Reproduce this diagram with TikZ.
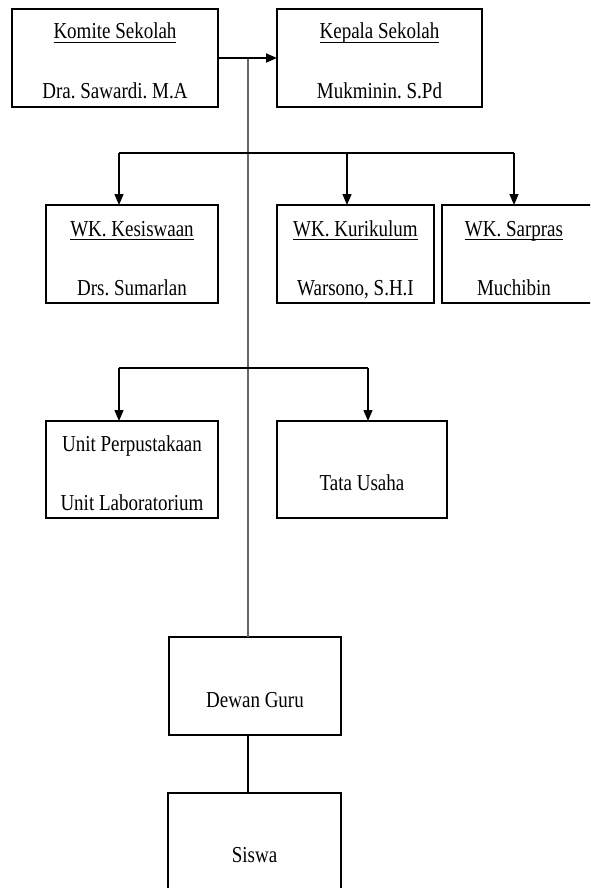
\documentclass[tikz,border=0pt]{standalone}
\usepackage{fontspec}
\usepackage{graphicx}
\setmainfont{Liberation Serif}
\usetikzlibrary{arrows.meta}
\frenchspacing
\newcommand\sx[1]{\scalebox{1}[1.2]{#1}}
\newcommand\ulttl[1]{\setbox0\hbox{#1}\rlap{\rule[-3.2pt]{\wd0}{1.1pt}}\box0}
\begin{document}
\begin{tikzpicture}[x=1pt,y=-1pt,
  box/.style={draw, line width=1.3pt, inner sep=0pt, outer sep=0pt},
  lbl/.style={anchor=base, inner sep=0pt, font=\fontsize{19pt}{22pt}\selectfont},
  conn/.style={line width=1.3pt},
  arr/.style={line width=1.3pt, -{Triangle[length=11pt,width=9pt]}},
  vline/.style={line width=1.1pt, black!60}]
\useasboundingbox (0,0) rectangle (590,888);
\clip (0,0) rectangle (590,888);
% boxes
\node[box, minimum width=206pt, minimum height=98pt] (komite) at (115,58) {};
\node[box, minimum width=205pt, minimum height=98pt] (kepala) at (379.5,58) {};
\node[box, minimum width=172pt, minimum height=98pt] (kesiswaan) at (132,254) {};
\node[box, minimum width=157pt, minimum height=98pt] (kurikulum) at (355.5,254) {};
\node[box, minimum width=156pt, minimum height=98pt] (sarpras) at (520,254) {};
\node[box, minimum width=172pt, minimum height=97pt] (unit) at (132,469.5) {};
\node[box, minimum width=170pt, minimum height=97pt] (tata) at (362,469.5) {};
\node[box, minimum width=172pt, minimum height=98pt] (dewan) at (255,686) {};
\node[box, minimum width=173pt, minimum height=98pt] (siswa) at (254.5,842) {};
% labels
\node[lbl] (komiteT) at ([yshift=-30pt]komite.north) {\sx{\ulttl{Komite Sekolah}}};
\node[lbl] (komiteN) at ([yshift=-90pt]komite.north) {\sx{Dra. Sawardi. M.A}};
\node[lbl] (kepalaT) at ([yshift=-30pt]kepala.north) {\sx{\ulttl{Kepala Sekolah}}};
\node[lbl] (kepalaN) at ([yshift=-90pt]kepala.north) {\sx{Mukminin. S.Pd}};
\node[lbl] (kesT) at ([yshift=-31pt]kesiswaan.north) {\sx{\ulttl{WK. Kesiswaan}}};
\node[lbl] (kesN) at ([yshift=-90pt]kesiswaan.north) {\sx{Drs. Sumarlan}};
\node[lbl] (kurT) at ([yshift=-31pt]kurikulum.north) {\sx{\ulttl{WK. Kurikulum}}};
\node[lbl] (kurN) at ([yshift=-90pt]kurikulum.north) {\sx{Warsono, S.H.I}};
\node[lbl] (sarT) at ([yshift=-31pt]sarpras.north -| 514,0) {\sx{\ulttl{WK. Sarpras}}};
\node[lbl] (sarN) at ([yshift=-90pt]sarpras.north -| 514,0) {\sx{Muchibin}};
\node[lbl] (unitA) at ([yshift=-30pt]unit.north) {\sx{Unit Perpustakaan}};
\node[lbl] (unitB) at ([yshift=-89pt]unit.north) {\sx{Unit Laboratorium}};
\node[lbl] (tataT) at ([yshift=-69pt]tata.north) {\sx{Tata Usaha}};
\node[lbl] (dewanT) at ([yshift=-70pt]dewan.north) {\sx{Dewan Guru}};
\node[lbl] (siswaT) at ([yshift=-69pt]siswa.north) {\sx{Siswa}};
% connectors
\coordinate (j) at (248,58);
\draw[vline] (j) -- (j |- dewan.north);
\draw[arr, line width=1.8pt] (komite.east) -- (kepala.west);
\coordinate (h1L) at (119,153);
\coordinate (h1M) at (347,153);
\coordinate (h1R) at (514,153);
\draw[conn] (h1L) -- (h1R);
\draw[arr] (h1L) -- (h1L |- kesiswaan.north);
\draw[arr] (h1M) -- (h1M |- kurikulum.north);
\draw[arr] (h1R) -- (h1R |- sarpras.north);
\coordinate (h2L) at (119,368);
\coordinate (h2R) at (368,368);
\draw[conn] (h2L) -- (h2R);
\draw[arr] (h2L) -- (h2L |- unit.north);
\draw[arr] (h2R) -- (h2R |- tata.north);
\draw[conn, line width=1.1pt] (dewan.south -| j) -- (siswa.north -| j);
\end{tikzpicture}
\end{document}
